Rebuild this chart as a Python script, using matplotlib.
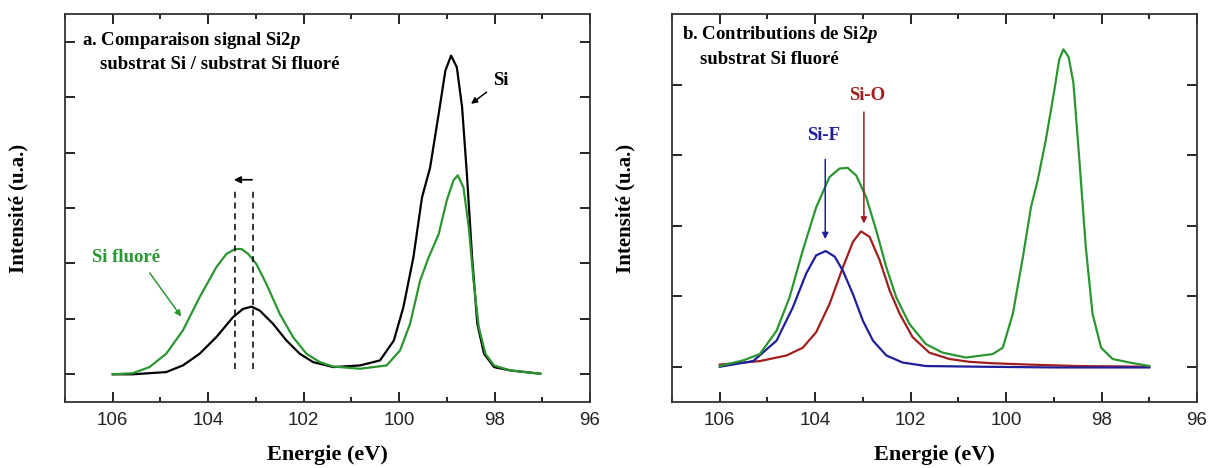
import matplotlib
matplotlib.use("Agg")
import matplotlib.pyplot as plt
from matplotlib.ticker import MultipleLocator

# --- panel a: Si 2p, substrat Si vs substrat Si fluoré ---
si_energy = [106.0, 105.58, 104.88, 104.53, 104.18, 103.83, 103.48, 103.27, 103.09, 102.92,
             102.64, 102.36, 102.08, 101.80, 101.38, 100.82, 100.40, 100.11, 99.91, 99.70,
             99.52, 99.35, 99.17, 99.03, 98.91, 98.79, 98.68, 98.58, 98.47, 98.36,
             98.22, 98.01, 97.67, 97.04]
si_intensity = [0.00, 0.00, 0.04, 0.16, 0.37, 0.67, 1.03, 1.18, 1.22, 1.15,
                0.91, 0.61, 0.37, 0.22, 0.13, 0.16, 0.25, 0.61, 1.21, 2.11,
                3.19, 3.73, 4.70, 5.48, 5.75, 5.54, 4.82, 3.62, 2.11, 0.91,
                0.37, 0.13, 0.07, 0.01]

sif_energy = [106.0, 105.58, 105.23, 104.88, 104.53, 104.18, 103.83, 103.62, 103.44, 103.30,
              103.16, 102.99, 102.78, 102.50, 102.22, 101.94, 101.66, 101.38, 100.82, 100.26,
              99.98, 99.77, 99.56, 99.38, 99.17, 99.00, 98.86, 98.77, 98.65, 98.54,
              98.44, 98.33, 98.19, 98.01, 97.67, 97.04]
sif_intensity = [0.00, 0.02, 0.13, 0.37, 0.79, 1.39, 1.93, 2.17, 2.26, 2.26,
                 2.17, 1.99, 1.63, 1.09, 0.67, 0.37, 0.22, 0.14, 0.10, 0.16,
                 0.43, 0.91, 1.69, 2.11, 2.53, 3.14, 3.50, 3.59, 3.37, 2.65,
                 1.69, 0.85, 0.37, 0.16, 0.07, 0.01]

# dashed markers at the two oxide peak positions
shift_positions = [103.44, 103.06]

# --- panel b: decomposition, substrat Si fluoré ---
total_energy = [106.0, 105.51, 105.16, 104.81, 104.54, 104.26, 103.98, 103.70, 103.49, 103.32,
                103.14, 102.93, 102.72, 102.51, 102.30, 102.03, 101.68, 101.33, 100.84, 100.28,
                100.07, 99.86, 99.65, 99.48, 99.34, 99.17, 98.99, 98.89, 98.80, 98.69,
                98.59, 98.47, 98.33, 98.19, 98.01, 97.77, 97.42, 97.0]
total_intensity = [0.01, 0.09, 0.18, 0.51, 0.98, 1.65, 2.26, 2.69, 2.81, 2.82,
                   2.71, 2.40, 1.93, 1.41, 0.98, 0.61, 0.32, 0.20, 0.13, 0.18,
                   0.27, 0.75, 1.55, 2.26, 2.64, 3.21, 3.92, 4.35, 4.50, 4.39,
                   4.02, 2.97, 1.69, 0.75, 0.27, 0.11, 0.06, 0.01]

sif_comp_energy = [106.0, 105.30, 104.81, 104.47, 104.19, 103.98, 103.78, 103.59, 103.42, 103.21,
                   103.0, 102.79, 102.51, 102.17, 101.68, 100.5, 99.0, 97.0]
sif_comp_intensity = [0.00, 0.08, 0.37, 0.84, 1.32, 1.58, 1.64, 1.56, 1.36, 1.03,
                      0.65, 0.37, 0.16, 0.06, 0.01, 0.00, -0.01, -0.01]

sio_comp_energy = [106.0, 105.16, 104.60, 104.26, 103.98, 103.70, 103.42, 103.21, 103.04, 102.86,
                   102.65, 102.44, 102.23, 101.96, 101.61, 101.19, 100.77, 100.3, 99.5, 98.5, 97.0]
sio_comp_intensity = [0.03, 0.08, 0.16, 0.27, 0.49, 0.89, 1.41, 1.77, 1.92, 1.84,
                      1.51, 1.08, 0.75, 0.42, 0.20, 0.11, 0.07, 0.05, 0.03, 0.01, 0.00]

x_ticks = [106, 104, 102, 100, 98, 96]

GREEN = "#2b9631"
BLUE = "#1f1f9c"
RED = "#a01e1e"
SERIF = "Liberation Serif"

plt.rcParams["mathtext.fontset"] = "custom"
plt.rcParams["mathtext.rm"] = "Liberation Serif:bold"
plt.rcParams["mathtext.it"] = "Liberation Serif:bold:italic"


def style_axes(ax, yticks):
    ax.set_xlim(107, 96)
    ax.set_xticks(x_ticks)
    ax.xaxis.set_minor_locator(MultipleLocator(1))
    ax.set_yticks(yticks)
    ax.set_yticklabels([])
    ax.tick_params(which="both", direction="in", top=True, right=True, width=1.2)
    ax.tick_params(which="major", length=7, pad=7)
    ax.tick_params(which="minor", length=3.5)
    for lab in ax.get_xticklabels():
        lab.set_fontfamily("Liberation Sans")
        lab.set_fontsize(13.5)
        lab.set_color("#222222")
    for sp in ax.spines.values():
        sp.set_linewidth(1.3)
        sp.set_color("#333333")
    ax.set_xlabel("Energie (eV)", fontsize=16, fontweight="bold", family=SERIF)
    ax.set_ylabel("Intensité (u.a.)", fontsize=15, fontweight="bold", family=SERIF)
    ax.xaxis.set_label_coords(0.5, -0.112)
    ax.yaxis.set_label_coords(-0.07, 0.5)


fig = plt.figure(figsize=(12.1, 4.68), dpi=100)
ax1 = fig.add_axes([0.0537, 0.141, 0.4339, 0.829])
ax2 = fig.add_axes([0.5554, 0.141, 0.4339, 0.829])

# panel a
ax1.plot(si_energy, si_intensity, color="black", lw=1.6)
ax1.plot(sif_energy, sif_intensity, color=GREEN, lw=1.6)
ax1.set_ylim(-0.5, 6.5)
style_axes(ax1, range(0, 7))
for e in shift_positions:
    ax1.plot([e, e], [0.1, 3.35], color="black", lw=1.1, ls=(0, (4, 3)))
ax1.annotate("", xy=(max(shift_positions) + 0.08, 3.51),
             xytext=(min(shift_positions) - 0.04, 3.51),
             arrowprops=dict(arrowstyle="-|>", color="black", lw=1.2,
                             mutation_scale=10))
ax1.text(0.032, 0.931, r"a. Comparaison signal Si$\mathit{2p}$", transform=ax1.transAxes,
         family=SERIF, fontweight="bold", fontsize=13.5, va="center", ha="left")
ax1.text(0.067, 0.869, "substrat Si / substrat Si fluoré", transform=ax1.transAxes,
         family=SERIF, fontweight="bold", fontsize=13.5, va="center", ha="left")
ax1.text(106.43, 2.11, "Si fluoré", color=GREEN, family=SERIF, fontweight="bold",
         fontsize=13.5, va="center", ha="left")
ax1.annotate("", xy=(104.53, 1.0), xytext=(105.26, 1.87),
             arrowprops=dict(arrowstyle="-|>", color=GREEN, lw=1.1, mutation_scale=9))
ax1.text(97.88, 5.3, "Si", color="black", family=SERIF, fontweight="bold",
         fontsize=13.5, va="center", ha="center")
ax1.annotate("", xy=(98.54, 4.85), xytext=(98.12, 5.12),
             arrowprops=dict(arrowstyle="-|>", color="black", lw=1.1, mutation_scale=9))

# panel b
ax2.plot(sio_comp_energy, sio_comp_intensity, color=RED, lw=1.6)
ax2.plot(sif_comp_energy, sif_comp_intensity, color=BLUE, lw=1.6)
ax2.plot(total_energy, total_intensity, color=GREEN, lw=1.6)
ax2.set_ylim(-0.5, 5.0)
style_axes(ax2, range(0, 5))
ax2.text(0.0196, 0.946, r"b. Contributions de Si$\mathit{2p}$", transform=ax2.transAxes,
         family=SERIF, fontweight="bold", fontsize=13.5, va="center", ha="left")
ax2.text(0.053, 0.883, "substrat Si fluoré", transform=ax2.transAxes,
         family=SERIF, fontweight="bold", fontsize=13.5, va="center", ha="left")
ax2.text(103.82, 3.28, "Si-F", color=BLUE, family=SERIF, fontweight="bold",
         fontsize=13.5, va="center", ha="center")
ax2.annotate("", xy=(103.79, 1.77), xytext=(103.79, 2.98),
             arrowprops=dict(arrowstyle="-|>", color=BLUE, lw=1.1, mutation_scale=9))
ax2.text(102.92, 3.84, "Si-O", color=RED, family=SERIF, fontweight="bold",
         fontsize=13.5, va="center", ha="center")
ax2.annotate("", xy=(102.98, 1.99), xytext=(102.98, 3.65),
             arrowprops=dict(arrowstyle="-|>", color=RED, lw=1.1, mutation_scale=9))

fig.savefig("out.png", dpi=100)
